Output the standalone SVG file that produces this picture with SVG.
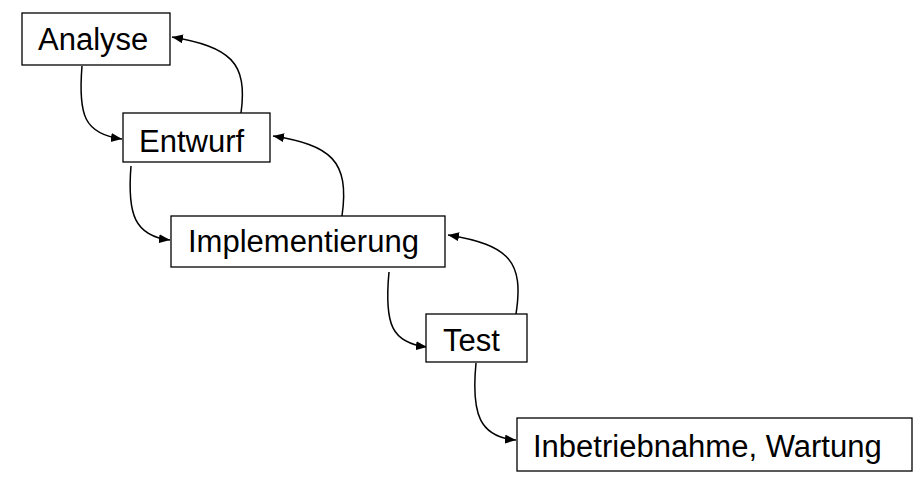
<svg xmlns="http://www.w3.org/2000/svg" width="921" height="488" viewBox="0 0 921 488">
<style>
.box{fill:#fff;stroke:#000;stroke-width:1.3}
.lbl{font-family:"Liberation Sans",Arial,sans-serif;font-size:31px;fill:#000}
.con{fill:none;stroke:#000;stroke-width:1.5}
</style>
<defs>
<marker id="arr" markerUnits="userSpaceOnUse" markerWidth="12" markerHeight="10" refX="11" refY="4.5" orient="auto">
<path d="M0,0 L11,4.5 L0,9 Z" fill="#000"/>
</marker>
</defs>
<rect width="921" height="488" fill="#fff"/>
<g id="connectors">
<path class="con" marker-end="url(#arr)" d="M82,66 C78,115 84,134 122,139"/>
<path class="con" marker-end="url(#arr)" d="M241,113 C248,62 230,47 172,37"/>
<path class="con" marker-end="url(#arr)" d="M131,166 C127,215 135,236 170,240"/>
<path class="con" marker-end="url(#arr)" d="M342,216 C350,160 330,145 273,136"/>
<path class="con" marker-end="url(#arr)" d="M389,272 C384,325 392,343 427,347"/>
<path class="con" marker-end="url(#arr)" d="M516,314 C524,262 510,245 448,235"/>
<path class="con" marker-end="url(#arr)" d="M476,363 C471,415 480,437 516,440"/>
</g>
<g id="analyse"><rect class="box" x="22" y="13" width="148" height="52"/><text class="lbl" x="38" y="50">Analyse</text></g>
<g id="entwurf"><rect class="box" x="123" y="113" width="147" height="49"/><text class="lbl" x="139" y="152">Entwurf</text></g>
<g id="implementierung"><rect class="box" x="171" y="216" width="274" height="51"/><text class="lbl" x="188" y="252">Implementierung</text></g>
<g id="test"><rect class="box" x="426" y="314" width="101" height="48"/><text class="lbl" x="443" y="351">Test</text></g>
<g id="inbetriebnahme"><rect class="box" x="517" y="418" width="395" height="53"/><text class="lbl" x="533" y="457">Inbetriebnahme, Wartung</text></g>
</svg>
